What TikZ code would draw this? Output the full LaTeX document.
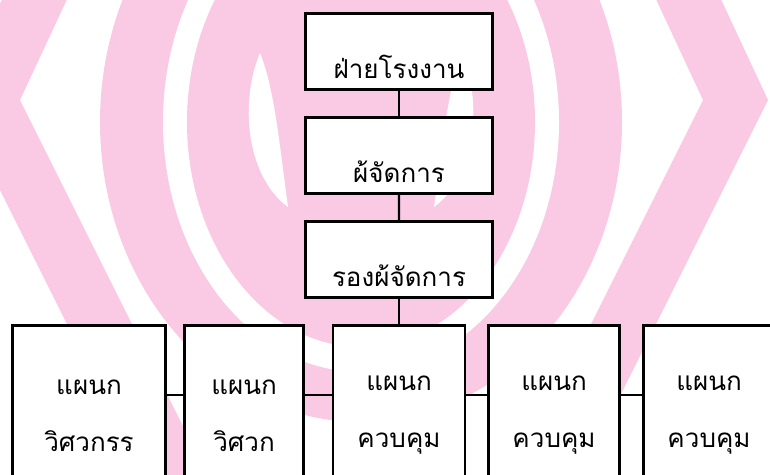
\documentclass[tikz,border=0pt]{standalone}
\usepackage{fontspec}
\newfontfamily\thaifont[Script=Thai]{Loma}
\usetikzlibrary{trees}
\definecolor{logopink}{RGB}{250,202,228}

\begin{document}
\begin{tikzpicture}[x = 1pt, y = -1pt,
        every node/.style = {draw, fill = white, line width = 2.4pt, font = \thaifont\fontsize{26}{57}\selectfont},
        box/.style = {minimum width = 187pt, text height = 62pt, text depth = 8pt, inner sep = 3pt},
        dept/.style = {minimum height = 180pt, align = center},
        level distance = 104pt,
        level 3/.style = {level distance = 156pt, sibling distance = 155pt},
        edge from parent/.style = {draw, line width = 2.2pt}]
    \useasboundingbox (0,0) rectangle (770,474);
    \clip (0,0) rectangle (770,474);

    % logo in the background
    \fill[logopink] (76,-20) -- (20,100) -- (217,494) -- (152,494) -- (-45,100) -- (11,-20) -- cycle;
    \fill[logopink] (647,-20) -- (703,100) -- (506,494) -- (571,494) -- (768,100) -- (712,-20) -- cycle;
    \fill[logopink] (361,122) ellipse [x radius = 261, y radius = 300];
    \fill[white] (361,122) ellipse [x radius = 198, y radius = 250];
    \fill[logopink] (361,122) ellipse [x radius = 174, y radius = 225];
    \fill[white] (260,53) .. controls (240,100) and (245,175) .. (288,207) .. controls (280,150) and (275,90) .. (260,53);
    \fill[white] (462,53) .. controls (482,100) and (477,175) .. (434,207) .. controls (442,150) and (447,90) .. (462,53);

    \node[box] (plant) at (399,51.5) {ฝ่ายโรงงาน}
    child {
        node[box] (manager) {ผ้จัดการ}
        child {
            node[box] (deputy) {รองผ้จัดการ}
            child {
                node[dept, minimum width = 153pt] (civil) {แผนก\\วิศวกรร}
                edge from parent[draw = none]
            }
            child {
                node[dept, minimum width = 119pt] (eng) {แผนก\\วิศวก}
                edge from parent[draw = none]
            }
            child {
                node[dept, minimum width = 132pt] (ctrlA) {แผนก\\ควบคุม}
            }
            child {
                node[dept, minimum width = 131pt] (ctrlB) {แผนก\\ควบคุม}
                edge from parent[draw = none]
            }
            child {
                node[dept, minimum width = 131pt] (ctrlC) {แผนก\\ควบคุม}
                edge from parent[draw = none]
            }
        }
    };

    % links along the department row
    \foreach \a/\b in {civil/eng, eng/ctrlA, ctrlA/ctrlB, ctrlB/ctrlC}
        \draw[line width = 2.2pt] ([yshift = 20.5pt]\a.east) -- ([yshift = 20.5pt]\b.west);
\end{tikzpicture}
\end{document}
